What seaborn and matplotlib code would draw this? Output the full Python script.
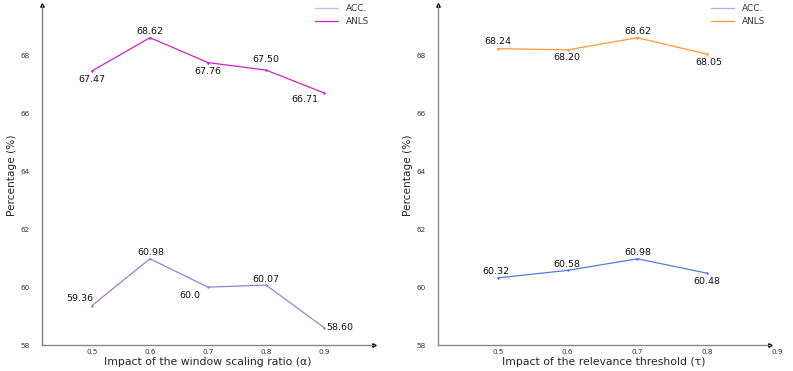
import numpy as np
import pandas as pd
import matplotlib
matplotlib.use("Agg")
import matplotlib.pyplot as plt
import seaborn as sns

# window scaling ratio (alpha)
alpha = [0.5, 0.6, 0.7, 0.8, 0.9]
acc_alpha = [59.36, 60.98, 60.0, 60.07, 58.60]
anls_alpha = [67.47, 68.62, 67.76, 67.50, 66.71]
acc_alpha_txt = ["59.36", "60.98", "60.0", "60.07", "58.60"]
anls_alpha_txt = ["67.47", "68.62", "67.76", "67.50", "66.71"]

# relevance threshold (tau)
tau = [0.5, 0.6, 0.7, 0.8]
acc_tau = [60.32, 60.58, 60.98, 60.48]
anls_tau = [68.24, 68.20, 68.62, 68.05]
acc_tau_txt = ["60.32", "60.58", "60.98", "60.48"]
anls_tau_txt = ["68.24", "68.20", "68.62", "68.05"]

yticks = [58, 60, 62, 64, 66, 68]

sns.set_style("white")

fig = plt.figure(figsize=(7.93, 3.71), dpi=100)
W, H = 793, 371
ax1 = fig.add_axes([42 / W, 1 - 345 / H, 332 / W, 340 / H])
ax2 = fig.add_axes([438 / W, 1 - 345 / H, 332 / W, 340 / H])


def label_points(ax, xs, ys, txts, offs):
    for x, y, t, (dx, dy) in zip(xs, ys, txts, offs):
        ax.annotate(t, (x, y), xytext=(dx, dy), textcoords="offset pixels",
                    ha="center", va="center", fontsize=6.8, color="#111111")


def style_axes(ax, xlabel, xlim, xticks):
    ax.set_xlim(*xlim)
    ax.set_ylim(58, 69.75)
    ax.set_xticks(xticks)
    ax.set_xticklabels([f"{v:.1f}" for v in xticks])
    ax.set_yticks(yticks)
    ax.tick_params(axis="x", labelsize=5.2, length=0, pad=3, colors="#333333")
    ax.tick_params(axis="y", labelsize=5.2, length=0, pad=8.5, colors="#333333")
    ax.set_xlabel(xlabel, fontsize=7.8, labelpad=1)
    ax.set_ylabel("Percentage (%)", fontsize=7.6, labelpad=3)
    for s in ["top", "right"]:
        ax.spines[s].set_visible(False)
    for s in ["left", "bottom"]:
        ax.spines[s].set_color("#888888")
        ax.spines[s].set_linewidth(1.0)
    ax.plot(1, 0, ">", color="black", markersize=2.5, transform=ax.transAxes, clip_on=False)
    ax.plot(0, 1, "^", color="black", markersize=2.5, transform=ax.transAxes, clip_on=False)
    leg = ax.legend(loc="upper right", frameon=False, fontsize=6.4,
                    handlelength=2.6, borderaxespad=0.0, bbox_to_anchor=(0.995, 1.012),
                    labelspacing=0.45)
    for ln in leg.get_lines():
        ln.set_marker("")
    leg.get_lines()[0].set_alpha(0.55)
    for t in leg.get_texts():
        t.set_color("#333333")


# left panel
sns.lineplot(x=alpha, y=acc_alpha, ax=ax1, color="#9b7fd4", linewidth=0.9,
             marker="o", markersize=1.8, markeredgewidth=0, label="ACC.")
sns.lineplot(x=alpha, y=anls_alpha, ax=ax1, color="#cc22cc", linewidth=0.9,
             marker="o", markersize=1.8, markeredgewidth=0, label="ANLS")
label_points(ax1, alpha, anls_alpha, anls_alpha_txt,
             [(0, -9), (0, 6), (0, -9), (0, 11), (-19, -7)])
label_points(ax1, alpha, acc_alpha, acc_alpha_txt,
             [(-12, 7), (1, 6), (-18, -8), (0, 6), (16, 0)])
style_axes(ax1, "Impact of the window scaling ratio (\u03b1)", (0.414, 0.986), alpha)

# right panel
sns.lineplot(x=tau, y=acc_tau, ax=ax2, color="#5a78e0", linewidth=0.9,
             marker="o", markersize=1.8, markeredgewidth=0, label="ACC.")
sns.lineplot(x=tau, y=anls_tau, ax=ax2, color="#ff9a33", linewidth=0.9,
             marker="o", markersize=1.8, markeredgewidth=0, label="ANLS")
label_points(ax2, tau, anls_tau, anls_tau_txt,
             [(0, 7), (-1, -8), (0, 6), (2, -8)])
label_points(ax2, tau, acc_tau, acc_tau_txt,
             [(-2, 6), (-1, 6), (0, 6), (0, -8)])
style_axes(ax2, "Impact of the relevance threshold (\u03c4)", (0.414, 0.89), tau)
# the 0.9 tick label sits just past the arrow head
ax2.annotate("0.9", (0.9, 0), xycoords=("data", "axes fraction"), xytext=(0, -3),
             textcoords="offset points", fontsize=5.2, color="#333333",
             ha="center", va="top", annotation_clip=False)

fig.savefig("out.png", dpi=100)
